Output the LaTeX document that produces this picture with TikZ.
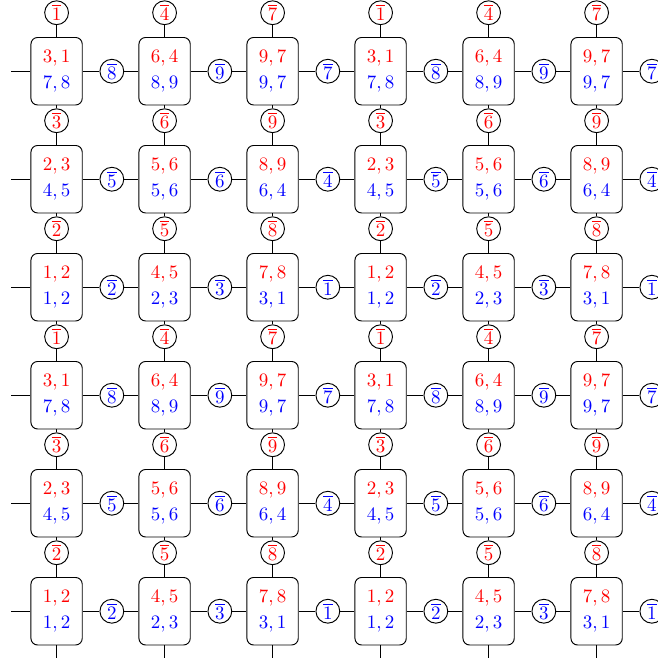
\documentclass[tikz,border=0pt]{standalone}
\usepackage{tikz}
\usetikzlibrary{positioning}
\usepackage{amsmath}

\begin{document}
\begin{tikzpicture}[
    line width=0.5pt,
    cell/.style={rectangle, rounded corners=3.5pt, draw, minimum width=0.95cm,
                 minimum height=1.25cm, align=center, inner sep=0pt},
    hlab/.style={circle, draw, fill=white, inner sep=1pt, text=blue},
    vlab/.style={circle, draw, fill=white, inner sep=1pt, text=red},
  ]
    \useasboundingbox (-1.048,1.319) rectangle (11.137,-10.848);
    \clip (-1.048,1.319) rectangle (11.137,-10.848);

    % cells: row/col of the 3x3 pattern, red pair, blue pair
    \foreach \i/\j/\ra/\rb/\ba/\bb in {0/0/3/1/7/8, 0/1/6/4/8/9, 0/2/9/7/9/7,
                                       1/0/2/3/4/5, 1/1/5/6/5/6, 1/2/8/9/6/4,
                                       2/0/1/2/1/2, 2/1/4/5/2/3, 2/2/7/8/3/1}
      \foreach \di in {0,3}
        \foreach \dj in {0,3} {
          \pgfmathtruncatemacro\row{\i+\di}
          \pgfmathtruncatemacro\col{\j+\dj}
          \node[cell] (b-\row-\col) at (2*\col,-2*\row)
            {\textcolor{red}{$\ra,\rb$}\\[1.7pt]\textcolor{blue}{$\ba,\bb$}};
          \node[vlab, above=0.22cm of b-\row-\col] (v-\row-\col) {$\overline{\rb}$};
          \node[hlab, right=0.31cm of b-\row-\col] (h-\row-\col) {$\overline{\bb}$};
        }

    % links
    \foreach \row in {0,...,5}
      \foreach \col in {0,...,5} {
        \draw (b-\row-\col) -- (v-\row-\col);
        \draw (b-\row-\col) -- (h-\row-\col);
      }
    \foreach \row in {0,...,5}
      \foreach \col [count=\nx] in {0,...,4}
        \draw (h-\row-\col) -- (b-\row-\nx);
    \foreach \row [count=\up from 0] in {1,...,5}
      \foreach \col in {0,...,5}
        \draw (v-\row-\col) -- (b-\up-\col);

    % stubs at the open sides
    \foreach \row in {0,...,5} {
      \coordinate[left=0.36cm of b-\row-0] (w-\row);
      \draw (b-\row-0) -- (w-\row);
    }
    \foreach \col in {0,...,5} {
      \coordinate[below=0.36cm of b-5-\col] (s-\col);
      \draw (b-5-\col) -- (s-\col);
    }
  \end{tikzpicture}
\end{document}
